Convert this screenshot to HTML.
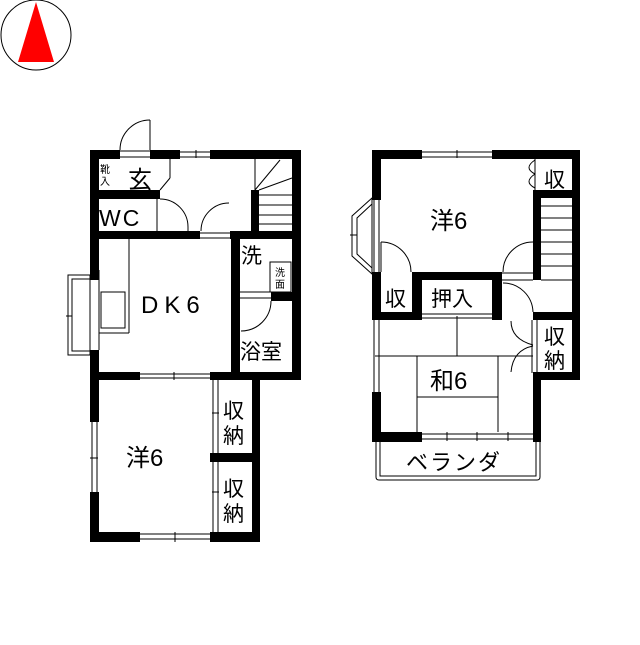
<!DOCTYPE html>
<html><head><meta charset="utf-8"><style>
body{margin:0;background:#fff}
text{font-family:"Liberation Sans","Noto Sans CJK JP",sans-serif;fill:#000}
</style></head><body>
<svg width="640" height="640" viewBox="0 0 640 640" xmlns="http://www.w3.org/2000/svg">
<rect width="640" height="640" fill="#fff"/>
<circle cx="36" cy="35" r="35" fill="#fff" stroke="#000" stroke-width="1"/>
<polygon points="36,2 18,62 54,62" fill="#f00"/>

<g fill="none" stroke="#000" stroke-width="1">
<line x1="120" y1="151" x2="150" y2="151"/><line x1="120" y1="157" x2="150" y2="157"/>
<line x1="150" y1="120" x2="150" y2="150"/><path d="M150,120 A30,30 0 0 0 120,150"/>
<line x1="180" y1="152" x2="210" y2="152"/><line x1="180" y1="157" x2="210" y2="157"/><line x1="196" y1="150" x2="196" y2="158"/>
<line x1="170" y1="158" x2="170" y2="178"/><line x1="170" y1="178" x2="160" y2="190"/>
<line x1="97" y1="200" x2="97" y2="231"/><line x1="92" y1="215" x2="92" y2="218"/>
<line x1="157" y1="199" x2="157" y2="231"/>
<path d="M160,199 A28,28 0 0 1 188,227"/><line x1="188" y1="227" x2="188" y2="231"/>
<path d="M201,231 A28,28 0 0 1 229,203"/>
<line x1="200" y1="233" x2="230" y2="233"/><line x1="200" y1="238" x2="230" y2="238"/>
<line x1="259" y1="195" x2="292" y2="195"/><line x1="259" y1="205" x2="292" y2="205"/><line x1="259" y1="215" x2="292" y2="215"/><line x1="259" y1="224" x2="292" y2="224"/>
<line x1="255" y1="190" x2="280" y2="160"/><line x1="259" y1="190" x2="292" y2="178"/><line x1="255" y1="190" x2="255" y2="159"/>
<line x1="99" y1="270" x2="99" y2="350"/>
<line x1="129" y1="239" x2="129" y2="333"/><line x1="99" y1="333" x2="129" y2="333"/>
<rect x="101" y="292" width="24" height="36"/>
<rect x="68" y="275" width="22" height="80"/><rect x="72" y="279" width="18" height="72"/><line x1="66" y1="316" x2="72" y2="316"/>
<line x1="140" y1="374" x2="210" y2="374"/><line x1="140" y1="378" x2="210" y2="378"/><line x1="174" y1="372" x2="174" y2="380"/>
<line x1="240" y1="292" x2="271" y2="292"/><line x1="240" y1="298" x2="271" y2="298"/>
<rect x="270" y="262" width="21" height="30"/>
<path d="M271,301 A30,30 0 0 1 241,331"/>
<line x1="92" y1="422" x2="92" y2="492"/><line x1="97" y1="422" x2="97" y2="492"/><line x1="90" y1="458" x2="98" y2="458"/>
<line x1="140" y1="534" x2="210" y2="534"/><line x1="140" y1="539" x2="210" y2="539"/><line x1="175" y1="532" x2="175" y2="542"/>
<line x1="213" y1="380" x2="213" y2="532"/><line x1="218" y1="380" x2="218" y2="532"/>
<line x1="212" y1="413" x2="219" y2="413"/><line x1="212" y1="492" x2="219" y2="492"/>

<line x1="422" y1="152" x2="492" y2="152"/><line x1="422" y1="157" x2="492" y2="157"/><line x1="457" y1="150" x2="457" y2="158"/>
<line x1="535" y1="159" x2="535" y2="190"/>
<path d="M535,160 q-12,8 0,14 M535,174 q-12,8 0,14"/>
<line x1="374" y1="200" x2="374" y2="272"/><line x1="379" y1="200" x2="379" y2="272"/>
<polygon points="372,198 352,216 352,256 372,274"/><polygon points="372,204 357,218 357,254 372,268"/>
<line x1="350" y1="235" x2="357" y2="235"/>
<path d="M381,242 A30,30 0 0 1 411,272"/><line x1="381" y1="242" x2="381" y2="272"/>
<path d="M503,272 A30,30 0 0 1 533,242"/>
<line x1="502" y1="273" x2="533" y2="273"/><line x1="502" y1="280" x2="533" y2="280"/>
<path d="M503,283 A30,30 0 0 1 533,312"/>
<line x1="541" y1="280" x2="572" y2="280"/>
<line x1="541" y1="206" x2="572" y2="206"/><line x1="541" y1="218" x2="572" y2="218"/><line x1="541" y1="230" x2="572" y2="230"/><line x1="541" y1="242" x2="572" y2="242"/><line x1="541" y1="254" x2="572" y2="254"/><line x1="541" y1="266" x2="572" y2="266"/>
<line x1="422" y1="314" x2="492" y2="314"/><line x1="422" y1="318" x2="492" y2="318"/>
<line x1="374" y1="320" x2="374" y2="392"/><line x1="379" y1="320" x2="379" y2="392"/>
<line x1="375" y1="356" x2="533" y2="356"/><line x1="457" y1="316" x2="457" y2="356"/>
<line x1="417" y1="356" x2="417" y2="432"/><line x1="498" y1="356" x2="498" y2="432"/><line x1="417" y1="397" x2="498" y2="397"/>
<line x1="532" y1="320" x2="532" y2="373"/><line x1="537" y1="320" x2="537" y2="373"/>
<path d="M511,321 q0,18 22,24 M533,346 q-20,4 -22,26"/>
<line x1="422" y1="434" x2="533" y2="434"/><line x1="422" y1="439" x2="533" y2="439"/>
<line x1="447" y1="432" x2="447" y2="441"/><line x1="477" y1="432" x2="477" y2="441"/><line x1="508" y1="432" x2="508" y2="441"/>
<path d="M376,442 V477 q0,3 3,3 H537 q3,0 3,-3 V442"/>
<path d="M380,442 V476 H536 V442"/>
</g>

<g fill="#000">
<rect x="90" y="150" width="30" height="9"/><rect x="150" y="150" width="30" height="9"/><rect x="210" y="150" width="91" height="9"/>
<rect x="90" y="150" width="9" height="130"/><rect x="90" y="350" width="9" height="72"/><rect x="90" y="492" width="9" height="50"/>
<rect x="292" y="150" width="9" height="230"/>
<rect x="90" y="190" width="70" height="9"/>
<rect x="90" y="231" width="110" height="8"/><rect x="230" y="231" width="71" height="8"/>
<rect x="251" y="190" width="8" height="41"/>
<rect x="231" y="231" width="9" height="149"/>
<rect x="271" y="292" width="30" height="9"/>
<rect x="90" y="372" width="50" height="8"/><rect x="210" y="372" width="91" height="8"/>
<rect x="90" y="532" width="50" height="10"/><rect x="210" y="532" width="50" height="10"/>
<rect x="252" y="372" width="8" height="170"/>
<rect x="210" y="453" width="42" height="9"/>
<rect x="372" y="150" width="50" height="9"/><rect x="492" y="150" width="88" height="9"/>
<rect x="372" y="150" width="9" height="50"/><rect x="372" y="272" width="9" height="48"/><rect x="372" y="392" width="9" height="50"/>
<rect x="572" y="150" width="8" height="230"/>
<rect x="533" y="190" width="47" height="8"/><rect x="533" y="190" width="8" height="90"/>
<rect x="533" y="312" width="47" height="8"/>
<rect x="533" y="372" width="47" height="8"/><rect x="533" y="372" width="8" height="70"/>
<rect x="412" y="272" width="90" height="8"/><rect x="412" y="272" width="10" height="48"/><rect x="492" y="272" width="10" height="48"/>
<rect x="372" y="312" width="50" height="8"/>
<rect x="372" y="432" width="50" height="10"/><rect x="533" y="432" width="8" height="10"/>
</g>

<g font-size="24">
<text x="128" y="188">玄</text>
<text x="99" y="226" font-size="23" letter-spacing="2">WC</text>
<text x="141" y="313" letter-spacing="6">DK6</text>
<text x="241" y="263" font-size="21">洗</text>
<text x="240" y="359" font-size="21">浴室</text>
<text x="126" y="466">洋6</text>
<text x="223" y="418" font-size="21">収</text><text x="223" y="443" font-size="21">納</text>
<text x="223" y="496" font-size="21">収</text><text x="223" y="521" font-size="21">納</text>
<text x="430" y="229">洋6</text>
<text x="544" y="187" font-size="21">収</text>
<text x="385" y="306" font-size="21">収</text>
<text x="431" y="306" font-size="21">押入</text>
<text x="430" y="389">和6</text>
<text x="544" y="344" font-size="21">収</text><text x="544" y="368" font-size="21">納</text>
<text x="406" y="470" font-size="22" letter-spacing="2">ベランダ</text>
</g>
<g font-size="10">
<text x="100" y="173">靴</text><text x="100" y="185">入</text>
<text x="275" y="276">洗</text><text x="275" y="288">面</text>
</g>
</svg>
</body></html>
